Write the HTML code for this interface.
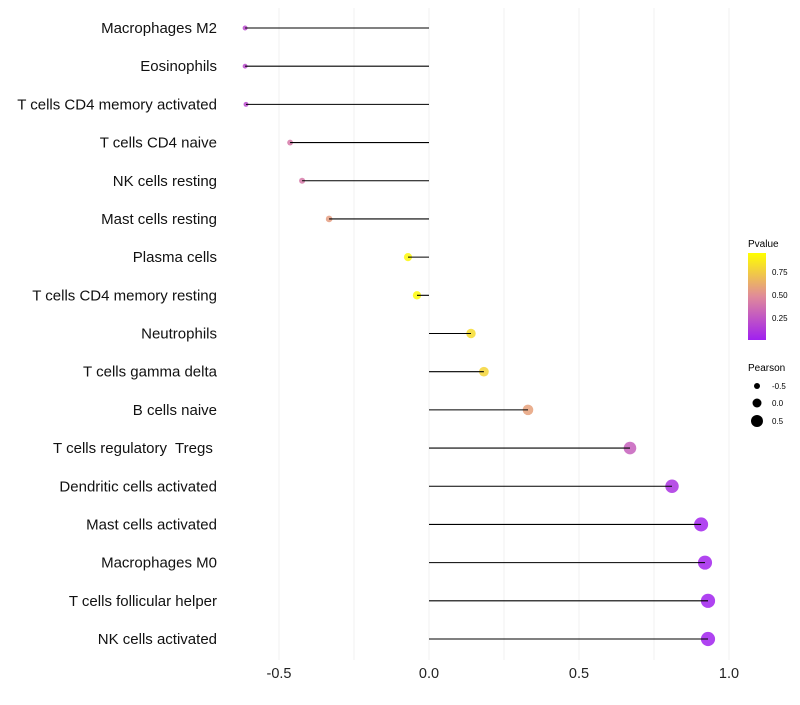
<!DOCTYPE html>
<html><head><meta charset="utf-8"><style>
body{margin:0;background:#fff;font-family:"Liberation Sans",sans-serif}
text{white-space:pre}
</style></head><body>
<svg id="chart" width="800" height="700" xmlns="http://www.w3.org/2000/svg" font-family="Liberation Sans, sans-serif">
<g id="grid"></g>
<g id="marks"></g>
<g id="labels"></g>
<g id="xaxis"></g>
<g>
<text x="748" y="247" font-size="10">Pvalue</text>
<defs><linearGradient id="pg" x1="0" y1="1" x2="0" y2="0">
<stop offset="0" stop-color="#a020f0"/><stop offset="0.5" stop-color="#e08a9a"/><stop offset="1" stop-color="#ffff00"/></linearGradient></defs>
<rect x="748" y="253" width="18" height="87" fill="url(#pg)"/>
<text x="772" y="275" font-size="8">0.75</text>
<text x="772" y="298" font-size="8">0.50</text>
<text x="772" y="321" font-size="8">0.25</text>
</g>
<g>
<text x="748" y="371" font-size="10">Pearson</text>
<circle cx="757" cy="386" r="3" fill="#000"/>
<text x="772" y="389" font-size="8">-0.5</text>
<circle cx="757" cy="403" r="4.5" fill="#000"/>
<text x="772" y="406" font-size="8">0.0</text>
<circle cx="757" cy="421" r="6" fill="#000"/>
<text x="772" y="424" font-size="8">0.5</text>
</g>
</svg>
<script>
const categories=["Macrophages M2","Eosinophils","T cells CD4 memory activated","T cells CD4 naive","NK cells resting","Mast cells resting","Plasma cells","T cells CD4 memory resting","Neutrophils","T cells gamma delta","B cells naive","T cells regulatory  Tregs ","Dendritic cells activated","Mast cells activated","Macrophages M0","T cells follicular helper","NK cells activated"];
const pearson=[-0.613,-0.613,-0.61,-0.463,-0.423,-0.333,-0.07,-0.04,0.14,0.183,0.33,0.67,0.81,0.907,0.92,0.93,0.93];
const pvalues=[0.2,0.2,0.2,0.42,0.42,0.58,0.97,0.98,0.85,0.82,0.6,0.3,0.08,0.02,0.02,0.01,0.01];
const xTicks=[-0.5,0,0.5,1];
const xTickLabels=["-0.5","0.0","0.5","1.0"];
const xMinor=[-0.25,0.25,0.75];
const NS="http://www.w3.org/2000/svg";
const xs=v=>429+v*300;
const ys=i=>28+i*(611/16);
function col(p){
  const st=[[0,[160,32,240]],[0.5,[224,138,154]],[1,[255,255,0]]];
  let a=st[0],b=st[1]; if(p>0.5){a=st[1];b=st[2];}
  const t=(p-a[0])/(b[0]-a[0]);
  return "rgb("+a[1].map((c,k)=>Math.round(c+(b[1][k]-c)*t)).join(",")+")";
}
function mk(tag,attrs,parent){const e=document.createElementNS(NS,tag);for(const k in attrs)e.setAttribute(k,attrs[k]);parent.appendChild(e);return e;}
const grid=document.getElementById('grid'),marks=document.getElementById('marks'),labels=document.getElementById('labels'),xaxis=document.getElementById('xaxis');
xTicks.concat(xMinor).forEach(v=>{
  const l=mk('line',{x1:xs(v),x2:xs(v),y1:8,y2:660,stroke:'#f2f2f2','stroke-width':1},grid);
  
  
});
xTicks.forEach((v,i)=>{
  const t=mk('text',{x:xs(v),y:678,'font-size':14.5,'text-anchor':'middle',fill:'#222'},xaxis);
  t.textContent=xTickLabels[i];
  
  
});
categories.forEach((c,i)=>{
  const y=ys(i);
  const t=mk('text',{x:217,y:y+5,'font-size':15,'text-anchor':'end',fill:'#111'},labels);
  t.textContent=c;
  
  
  const r=Math.max(1.8,4.3+3*pearson[i]);
  const d=mk('circle',{cx:xs(pearson[i]),cy:y,r:r,fill:col(pvalues[i]),'fill-opacity':0.85},marks);
  
  
  const l=mk('line',{x1:xs(0),x2:xs(pearson[i]),y1:y,y2:y,stroke:'#000','stroke-width':1.1},marks);
  
  
});
</script>
</body></html>
